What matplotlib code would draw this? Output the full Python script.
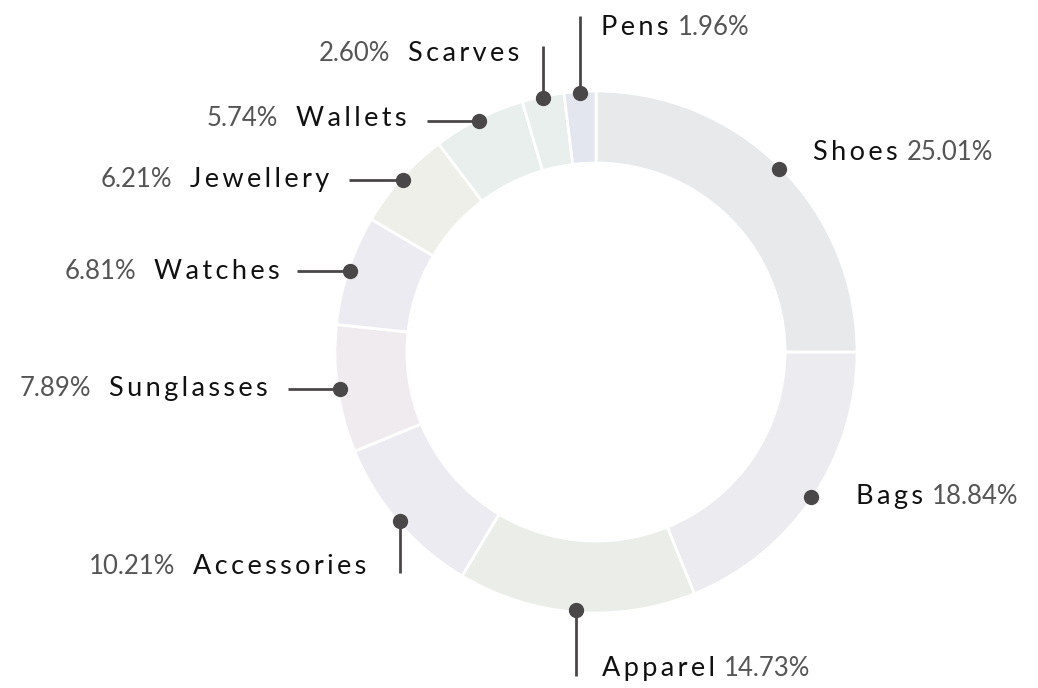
import matplotlib.pyplot as plt
import numpy as np

categories = ['Shoes', 'Bags', 'Apparel', 'Accessories', 'Sunglasses',
              'Watches', 'Jewellery', 'Wallets', 'Scarves', 'Pens']
shares = [25.01, 18.84, 14.73, 10.21, 7.89, 6.81, 6.21, 5.74, 2.60, 1.96]
colors = ['#e8e9eb', '#ebebf0', '#ebeee8', '#ecebf1', '#f0ebef',
          '#ecebf1', '#efefea', '#e8efec', '#e8efec', '#e3e5ef']

# leader layout: direction, length (px), label anchor offset from leader end, side
leaders = {
    'Shoes':       ('none', 0, (34, 9), 'right'),
    'Bags':        ('none', 0, (45, -7), 'right'),
    'Apparel':     ('down', 66, (26, 0), 'right'),
    'Accessories': ('down', 52, (-33, -1), 'left'),
    'Sunglasses':  ('left', 52, (-20, -7), 'left'),
    'Watches':     ('left', 53, (-17, -8), 'left'),
    'Jewellery':   ('left', 54, (-19, -7), 'left'),
    'Wallets':     ('left', 52, (-21, -5), 'left'),
    'Scarves':     ('up', 52, (-24, -15), 'left'),
    'Pens':        ('up', 77, (21, -19), 'right'),
}

W, H = 1038, 688
cx, cy = 596, H - 352
R, ring = 261, 72
dark = '#4a4748'

fig = plt.figure(figsize=(W / 100, H / 100), dpi=100)
ax = fig.add_axes([0, 0, 1, 1])
ax.pie(shares, colors=colors, startangle=90, counterclock=False,
       radius=R, center=(cx, cy), frame=True,
       wedgeprops=dict(width=ring, edgecolor='white', linewidth=2))
ax.set_xlim(0, W)
ax.set_ylim(0, H)
ax.set_aspect('equal')
ax.axis('off')

name_font = ['Lato', 'DejaVu Sans']
pct_font = ['Lato', 'DejaVu Sans']

def spaced(s):
    return '\u2009'.join(s)

cum = 0
texts = []
for name, val in zip(categories, shares):
    mid = np.radians(90 - (cum + val / 2) * 3.6)
    cum += val
    dx, dy = cx + (R - 2) * np.cos(mid), cy + (R - 2) * np.sin(mid)
    direction, length, (ox, oy), side = leaders[name]
    ex, ey = dx, dy
    if direction == 'down':
        ey = dy - length
    elif direction == 'up':
        ey = dy + length
    elif direction == 'left':
        ex = dx - length
    if direction != 'none':
        ax.plot([dx, ex], [dy, ey], color=dark, lw=2, solid_capstyle='butt', zorder=3)
    ax.plot(dx, dy, 'o', color=dark, ms=10, zorder=4)
    tx, ty = ex + ox, ey + oy
    pct = f'{val:.2f}%'
    ha = 'left' if side == 'right' else 'right'
    t1 = ax.text(tx, ty, spaced(name), fontsize=19.5, family=name_font,
                 color='#111111', ha=ha, va='baseline')
    texts.append((t1, pct, side))

fig.canvas.draw()
inv = ax.transData.inverted()
for t1, pct, side in texts:
    bb = t1.get_window_extent()
    x0, _ = inv.transform((bb.x0, bb.y0))
    x1, _ = inv.transform((bb.x1, bb.y0))
    ty = t1.get_position()[1]
    if side == 'right':
        ax.text(x1 + 9, ty, pct, fontsize=18.5, family=pct_font,
                color='#555555', ha='left', va='baseline')
    else:
        ax.text(x0 - 18, ty, pct, fontsize=18.5, family=pct_font,
                color='#555555', ha='right', va='baseline')

fig.savefig('out.png', dpi=100)
